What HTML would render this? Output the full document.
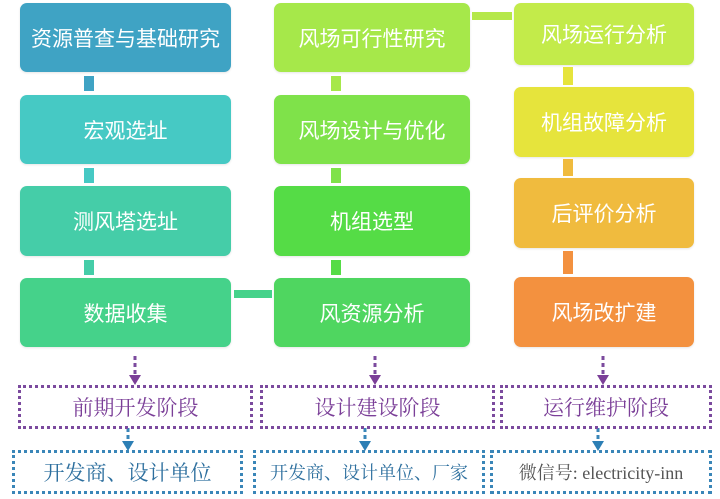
<!DOCTYPE html>
<html><head><meta charset="utf-8"><style>
body{margin:0;width:720px;height:499px;background:#fff;position:relative;overflow:hidden;font-family:"Liberation Sans","Noto Sans CJK SC",sans-serif}
.b{position:absolute;border-radius:7px;color:#fff;font-size:21px;display:flex;align-items:center;justify-content:center;box-shadow:0 1px 2px rgba(0,0,0,.1)}
.c{position:absolute}
.d{position:absolute;display:flex;align-items:center;justify-content:center;font-family:"Liberation Serif","Noto Serif CJK SC",serif;font-size:21px;box-sizing:border-box}
.p{border:3px dotted #7b4a9e;color:#7b3f98}
.q{border:3px dotted #3a86b8;color:#2d6f9e}
</style></head><body>
<div class="b" style="left:20px;top:3px;width:211px;height:69px;background:#3fa3c4">资源普查与基础研究</div>
<div class="b" style="left:20px;top:95px;width:211px;height:69px;background:#46c9c4">宏观选址</div>
<div class="b" style="left:20px;top:186px;width:211px;height:70px;background:#45cda8">测风塔选址</div>
<div class="b" style="left:20px;top:278px;width:211px;height:69px;background:#45d28a">数据收集</div>
<div class="c" style="left:84px;top:76px;width:10px;height:15px;background:#3fa3c4"></div>
<div class="c" style="left:84px;top:168px;width:10px;height:15px;background:#46c9c4"></div>
<div class="c" style="left:84px;top:260px;width:10px;height:15px;background:#45cda8"></div>
<div class="c" style="left:234px;top:290px;width:38px;height:8px;background:#45d28a"></div>

<div class="b" style="left:274px;top:3px;width:196px;height:69px;background:#a6e84a">风场可行性研究</div>
<div class="b" style="left:274px;top:95px;width:196px;height:69px;background:#7fe24a">风场设计与优化</div>
<div class="b" style="left:274px;top:186px;width:196px;height:70px;background:#55dc46">机组选型</div>
<div class="b" style="left:274px;top:278px;width:196px;height:69px;background:#4fd660">风资源分析</div>
<div class="c" style="left:331px;top:76px;width:10px;height:15px;background:#a6e84a"></div>
<div class="c" style="left:331px;top:168px;width:10px;height:15px;background:#7fe24a"></div>
<div class="c" style="left:331px;top:260px;width:10px;height:15px;background:#55dc46"></div>
<div class="c" style="left:472px;top:12px;width:40px;height:8px;background:#b5e84a"></div>

<div class="b" style="left:514px;top:3px;width:180px;height:62px;background:#c3eb4a">风场运行分析</div>
<div class="b" style="left:514px;top:87px;width:180px;height:70px;background:#e6e43c">机组故障分析</div>
<div class="b" style="left:514px;top:178px;width:180px;height:70px;background:#f0bb3e">后评价分析</div>
<div class="b" style="left:514px;top:277px;width:180px;height:70px;background:#f3913f">风场改扩建</div>
<div class="c" style="left:563px;top:67px;width:10px;height:18px;background:#e6e43c"></div>
<div class="c" style="left:563px;top:159px;width:10px;height:17px;background:#f0bb3e"></div>
<div class="c" style="left:563px;top:251px;width:10px;height:23px;background:#f3913f"></div>

<svg class="c" style="left:0;top:0" width="720" height="499">
<g stroke="#7b4a9e" stroke-width="3" stroke-dasharray="4,3">
<line x1="135" y1="356" x2="135" y2="375"/><line x1="375" y1="356" x2="375" y2="375"/><line x1="603" y1="356" x2="603" y2="375"/></g>
<g fill="#7b3f98"><polygon points="129,375 141,375 135,385"/><polygon points="369,375 381,375 375,385"/><polygon points="597,375 609,375 603,385"/></g>
<g stroke="#3a86b8" stroke-width="3" stroke-dasharray="4,3">
<line x1="128" y1="428" x2="128" y2="442"/><line x1="365" y1="428" x2="365" y2="442"/><line x1="598" y1="428" x2="598" y2="442"/></g>
<g fill="#2d7fb5"><polygon points="122,441 134,441 128,451"/><polygon points="359,441 371,441 365,451"/><polygon points="592,441 604,441 598,451"/></g>
</svg>
<div class="d p" style="left:18px;top:385px;width:235px;height:44px">前期开发阶段</div>
<div class="d p" style="left:260px;top:385px;width:235px;height:44px">设计建设阶段</div>
<div class="d p" style="left:500px;top:385px;width:212px;height:44px">运行维护阶段</div>
<div class="d q" style="left:12px;top:450px;width:231px;height:44px">开发商、设计单位</div>
<div class="d q" style="left:253px;top:450px;width:232px;height:44px;font-size:18px">开发商、设计单位、厂家</div>
<div class="d q" style="left:490px;top:450px;width:222px;height:44px;font-size:18px;color:#555">微信号: electricity-inn</div>
</body></html>
